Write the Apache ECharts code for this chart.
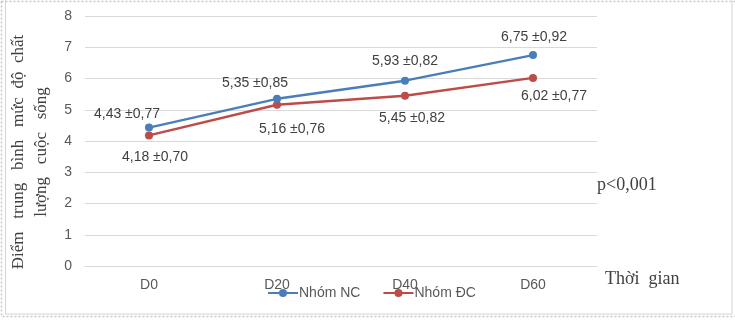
<!DOCTYPE html>
<html>
<head>
<meta charset="utf-8">
<script src="https://cdn.jsdelivr.net/npm/echarts@6/dist/echarts.min.js"></script>
<style>html,body{margin:0;padding:0;background:#fff}#c{width:735px;height:320px}</style>
</head>
<body>
<div id="c"></div>
<script>
const categories = ['D0', 'D20', 'D40', 'D60'];
const yTicks = [0, 1, 2, 3, 4, 5, 6, 7, 8];
const ncName = 'Nhóm NC';
const dcName = 'Nhóm ĐC';
const ncMean = [4.43, 5.35, 5.93, 6.75];
const ncSd = [0.77, 0.85, 0.82, 0.92];
const dcMean = [4.18, 5.16, 5.45, 6.02];
const dcSd = [0.70, 0.76, 0.82, 0.77];
const yTitleLine1 = 'Điểm   trung   bình   mức  độ  chất';
const yTitleLine2 = 'lượng   cuộc   sống';
const pText = 'p<0,001';
const xTitle = 'Thời  gian';

function fmt(v) { return v.toFixed(2).replace('.', ','); }

// label placement (style only)
const ncOffsets = [[-22, 3], [-22, 0], [0, -4], [1, -2]];
const dcOffsets = [[6, 6], [15, 8], [7, 6], [21, 2]];

function buildData(mean, sd, offsets, pos) {
  return mean.map((v, i) => ({
    value: v,
    label: { show: true, position: pos, offset: offsets[i], formatter: fmt(v) + ' ±' + fmt(sd[i]) }
  }));
}

const chart = echarts.init(document.getElementById('c'));
const labelStyle = { color: '#404040', fontSize: 14, fontFamily: 'Liberation Sans' };
chart.setOption({
  animation: false,
  grid: { left: 85, right: 138, top: 16, bottom: 54 },
  xAxis: {
    type: 'category', data: categories, boundaryGap: true,
    axisLine: { show: true, lineStyle: { color: '#d9d9d9' } },
    axisTick: { show: false },
    axisLabel: { color: '#595959', fontSize: 14, fontFamily: 'Liberation Sans', margin: 12 }
  },
  yAxis: {
    type: 'value', min: yTicks[0], max: yTicks[yTicks.length - 1], interval: 1,
    axisLine: { show: false }, axisTick: { show: false },
    splitLine: { lineStyle: { color: '#d9d9d9' } },
    axisLabel: { color: '#595959', fontSize: 14, fontFamily: 'Liberation Sans', margin: 13 }
  },
  legend: {
    left: 262, top: 281, itemWidth: 30, itemHeight: 10, itemGap: 22,
    textStyle: { color: '#595959', fontSize: 14, fontFamily: 'Liberation Sans', padding: [0, 0, 0, -4] },
    data: [ncName, dcName]
  },
  series: [
    {
      name: ncName, type: 'line', data: buildData(ncMean, ncSd, ncOffsets, 'top'),
      symbol: 'circle', symbolSize: 8, lineStyle: { width: 2.4, color: '#4a7ebb' },
      itemStyle: { color: '#4a7ebb' }, label: labelStyle, z: 3
    },
    {
      name: dcName, type: 'line', data: buildData(dcMean, dcSd, dcOffsets, 'bottom'),
      symbol: 'circle', symbolSize: 8, lineStyle: { width: 2.4, color: '#be4b48' },
      itemStyle: { color: '#be4b48' }, label: labelStyle, z: 2
    }
  ],
  graphic: [
    { type: 'rect', shape: { x: 1.5, y: 1.5, width: 740, height: 315 }, style: { fill: 'none', stroke: '#c8c8c8', lineWidth: 1.5, lineDash: [2, 2] }, silent: true },
    { type: 'rect', shape: { x: 5.5, y: -2, width: 726.5, height: 316 }, style: { fill: 'none', stroke: '#d4d4d4', lineWidth: 1 }, silent: true },
    { type: 'text', x: 19, y: 152, rotation: Math.PI / 2, style: { text: yTitleLine1, fill: '#404040', font: '17px "Liberation Serif"', align: 'center', verticalAlign: 'middle' } },
    { type: 'text', x: 42, y: 152, rotation: Math.PI / 2, style: { text: yTitleLine2, fill: '#404040', font: '17px "Liberation Serif"', align: 'center', verticalAlign: 'middle' } },
    { type: 'text', x: 597, y: 185, style: { text: pText, fill: '#404040', font: '18px "Liberation Serif"', verticalAlign: 'middle' } },
    { type: 'text', x: 605, y: 279, style: { text: xTitle, fill: '#404040', font: '18px "Liberation Serif"', verticalAlign: 'middle' } }
  ]
});
</script>
</body>
</html>
